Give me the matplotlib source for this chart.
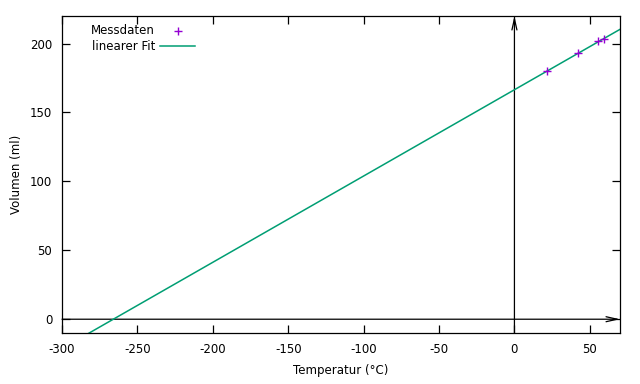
import numpy as np
import matplotlib
matplotlib.use("Agg")
import matplotlib.pyplot as plt
from matplotlib.lines import Line2D

plt.rcParams['axes.unicode_minus'] = False

# Messdaten
temp = [21.4, 41.9, 55.2, 59.2]
vol = [180.4, 193.2, 201.7, 203.4]

# linearer Fit V = a*T + b
a = 0.626
b = 166.5

xticks = [-300, -250, -200, -150, -100, -50, 0, 50]
yticks = [0, 50, 100, 150, 200]

fig = plt.figure(figsize=(6.4, 3.84), dpi=100)
ax = fig.add_axes([62/640, 1 - 333/384, (620-62)/640, (333-16)/384])
ax.set_xlim(-300, 70)
ax.set_ylim(-10, 220)

tx = np.array([-300, 70])
ax.plot(tx, a*tx + b, color="#009E73", lw=1.1, zorder=2)
ax.plot(temp, vol, ls="none", marker="+", ms=5.5, mew=1.0, color="#9400D3", zorder=3)

# Achsenpfeile
arrow = dict(arrowstyle="->,head_length=0.8,head_width=0.18", color="black", lw=0.9,
             shrinkA=0, shrinkB=0)
ax.annotate("", xy=(70, 0), xytext=(-300, 0), arrowprops=arrow, zorder=1)
ax.annotate("", xy=(0, 220), xytext=(0, -10), arrowprops=arrow, zorder=1)

ax.set_xticks(xticks)
ax.set_yticks(yticks)
ax.tick_params(direction="in", top=True, right=True, length=6, width=0.9,
               labelsize=8.5, pad=7)
for s in ax.spines.values():
    s.set_linewidth(0.9)

ax.set_xlabel("Temperatur (°C)", fontsize=8.5, labelpad=6)
ax.set_ylabel("Volumen (ml)", fontsize=8.5, labelpad=5)

# Legende im gnuplot-Stil (Text rechtsbuendig, Symbol rechts)
fig.text(155/640, 1 - 31/384, "Messdaten", ha="right", va="center", fontsize=8.5)
fig.text(155/640, 1 - 46/384, "linearer Fit", ha="right", va="center", fontsize=8.5)
fig.add_artist(Line2D([178/640], [1 - 31/384], ls="none", marker="+", ms=5.5, mew=1.0,
                      color="#9400D3"))
fig.add_artist(Line2D([160/640, 195/640], [1 - 46/384, 1 - 46/384], color="#009E73", lw=1.1))

fig.savefig("out.png", dpi=100)
